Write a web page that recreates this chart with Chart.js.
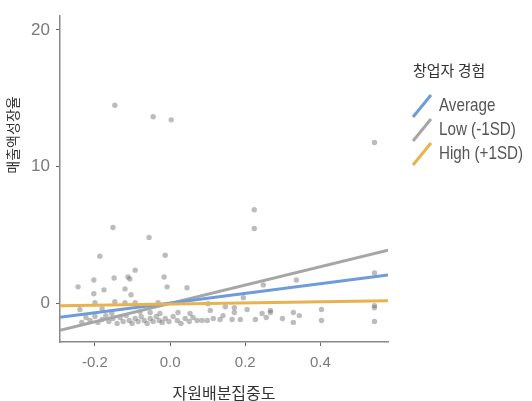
<!DOCTYPE html>
<html lang="ko">
<head>
    <meta charset="UTF-8">
    <title>매출액성장율</title>
    <script src="https://cdn.jsdelivr.net/npm/chart.js"></script>
    <style>
        body { margin: 0; background: #fff; }
        #wrap { width: 532px; height: 401px; }
    </style>
</head>
<body>
    <div id="wrap"><canvas id="chart"></canvas></div>

    <script>
        // scatter data (자원배분집중도, 매출액성장율)
        const pointX = [
            -0.147, -0.045, 0.003, 0.544, 0.224, 0.224, -0.152, -0.056, -0.187, -0.013,
            -0.093, -0.112, -0.107, -0.149, -0.203, -0.016, -0.245, -0.176, -0.12, -0.203,
            -0.104, 0.045, 0.336, 0.544, 0.248, 0.195, -0.008,
            -0.2, -0.147, -0.12, -0.093, -0.032, 0.101,
            -0.24, -0.181, 0.147, 0.171, 0.171, 0.205, 0.245, 0.267, 0.107, 0.141,
            0.267, 0.256, 0.299, 0.328, 0.328, 0.344, 0.403, 0.403, 0.544, 0.544, 0.544,
            -0.235, -0.224, -0.213, -0.2, -0.192, -0.181, -0.171, -0.163, -0.152, -0.141,
            -0.133, -0.125, -0.117, -0.109, -0.101, -0.093, -0.085, -0.077, -0.069, -0.061,
            -0.053, -0.045, -0.037, -0.029, -0.021, -0.013, -0.003, 0.008, 0.019, 0.029,
            0.04, 0.051, 0.061, 0.072, 0.085, 0.099, 0.115, 0.133, 0.165, 0.187, 0.227,
            -0.155, -0.08, -0.053, 0.021, 0.053, -0.027
        ];
        const pointY = [
            14.5, 13.65, 13.43, 11.77, 6.86, 5.49, 5.56, 4.84, 3.47, 3.54,
            2.45, 1.95, 1.8, 1.88, 1.73, 1.95, 1.23, 1.01, 1.08, 0.72,
            0.65, 1.16, 1.73, 2.24, 1.37, 0.43, 1.23,
            0.07, 0.14, 0.07, 0.07, 0.07, 0.0,
            -0.43, -0.36, -0.22, -0.29, -0.65, -0.43, -0.72, -0.65, -0.5, -0.87,
            -0.5, -1.01, -1.08, -0.65, -1.37, -0.87, -0.43, -1.23, -0.14, -0.29, -1.3,
            -1.37, -1.01, -1.23, -0.94, -1.37, -1.16, -0.87, -1.3, -1.08, -1.44,
            -1.01, -1.3, -0.87, -1.23, -1.44, -1.08, -1.3, -0.94, -1.23, -1.44,
            -1.08, -1.3, -0.94, -1.23, -1.37, -1.08, -1.3, -0.94, -1.23, -1.44,
            -1.08, -1.3, -1.01, -1.23, -1.23, -1.23, -1.08, -1.16, -1.16, -1.16, -1.16,
            -0.72, -0.58, -0.65, -0.65, -0.72, -0.72
        ];

        // simple slopes: endpoints of each fitted line
        const lineX = [-0.293, 0.58];
        const seriesNames = ['Average', 'Low (-1SD)', 'High (+1SD)'];
        const averageY = [-1.0, 2.1];
        const lowY = [-1.95, 3.9];
        const highY = [-0.15, 0.22];
        const seriesColors = ['#6f9bd8', '#a6a6a6', '#e8b24c'];

        const xTickValues = [-0.2, 0.0, 0.2, 0.4];
        const yTickValues = [0, 10, 20];

        const legendTitle = '창업자 경험';
        const yTitle = '매출액성장율';
        const xTitle = '자원배분집중도';

        const sans = "'Liberation Sans', Arial, sans-serif";
        const kr = "'Noto Sans CJK KR', 'Noto Sans', sans-serif";

        const scatterPoints = pointX.map((x, i) => ({ x: x, y: pointY[i] }));
        const toLine = ys => lineX.map((x, i) => ({ x: x, y: ys[i] }));
        const lineSets = [averageY, lowY, highY];
        const lineOrder = [2, 3, 1];

        const datasets = lineSets.map((ys, i) => ({
            type: 'line',
            label: seriesNames[i],
            data: toLine(ys),
            borderColor: seriesColors[i],
            borderWidth: 3,
            pointRadius: 0,
            fill: false,
            order: lineOrder[i]
        }));
        datasets.push({
            type: 'scatter',
            label: 'points',
            data: scatterPoints,
            backgroundColor: 'rgba(95,95,95,0.42)',
            borderWidth: 0,
            pointRadius: 2.7,
            order: 5
        });

        // legend on the right and rotated y title
        const extras = {
            id: 'extras',
            afterDraw(chart) {
                const c = chart.ctx;
                c.save();
                c.fillStyle = '#333';
                c.font = '15px ' + kr;
                c.textAlign = 'left';
                c.textBaseline = 'middle';
                c.fillText(legendTitle, 413, 70);

                c.lineWidth = 3;
                c.lineCap = 'butt';
                seriesNames.forEach((name, i) => {
                    const cy = 106 + i * 24;
                    c.strokeStyle = seriesColors[i];
                    c.beginPath();
                    c.moveTo(413, cy + 11);
                    c.lineTo(431, cy - 11);
                    c.stroke();
                    // narrow look: squeeze the text horizontally
                    c.save();
                    c.translate(439, cy);
                    c.scale(0.8, 1);
                    c.font = '19px ' + sans;
                    c.fillStyle = '#555';
                    c.fillText(name, 0, 0);
                    c.restore();
                });

                c.translate(13, 135);
                c.rotate(-Math.PI / 2);
                c.textAlign = 'center';
                c.fillStyle = '#333';
                c.font = '14px ' + kr;
                c.fillText(yTitle, 0, 0);
                c.restore();
            }
        };

        new Chart(document.getElementById('chart'), {
            type: 'scatter',
            data: { datasets: datasets },
            options: {
                responsive: true,
                maintainAspectRatio: false,
                animation: false,
                layout: { padding: { left: 0, top: 12, right: 144, bottom: 0 } },
                plugins: {
                    legend: { display: false },
                    tooltip: { enabled: false }
                },
                scales: {
                    x: {
                        type: 'linear',
                        min: -0.293,
                        max: 0.58,
                        afterBuildTicks: s => { s.ticks = xTickValues.map(v => ({ value: v })); },
                        afterFit: s => { s.height = 59; },
                        grid: { drawOnChartArea: false, drawTicks: true, tickLength: 4, color: '#666', lineWidth: 1 },
                        border: { display: true, color: '#888', width: 1.5 },
                        ticks: {
                            color: '#7a7a7a',
                            padding: 8,
                            font: { family: sans, size: 15 },
                            callback: v => v.toFixed(1)
                        },
                        title: {
                            display: true,
                            text: xTitle,
                            color: '#333',
                            padding: { top: 0, bottom: 0 },
                            font: { family: kr, size: 16, lineHeight: 1 }
                        }
                    },
                    y: {
                        type: 'linear',
                        min: -2.8,
                        max: 21,
                        afterBuildTicks: s => { s.ticks = yTickValues.map(v => ({ value: v })); },
                        afterFit: s => { s.width = 60; },
                        grid: { drawOnChartArea: false, drawTicks: true, tickLength: 4, color: '#666', lineWidth: 1 },
                        border: { display: true, color: '#888', width: 1.5 },
                        ticks: {
                            color: '#7a7a7a',
                            padding: 6,
                            font: { family: sans, size: 17 }
                        }
                    }
                }
            },
            plugins: [extras]
        });
    </script>
</body>
</html>
